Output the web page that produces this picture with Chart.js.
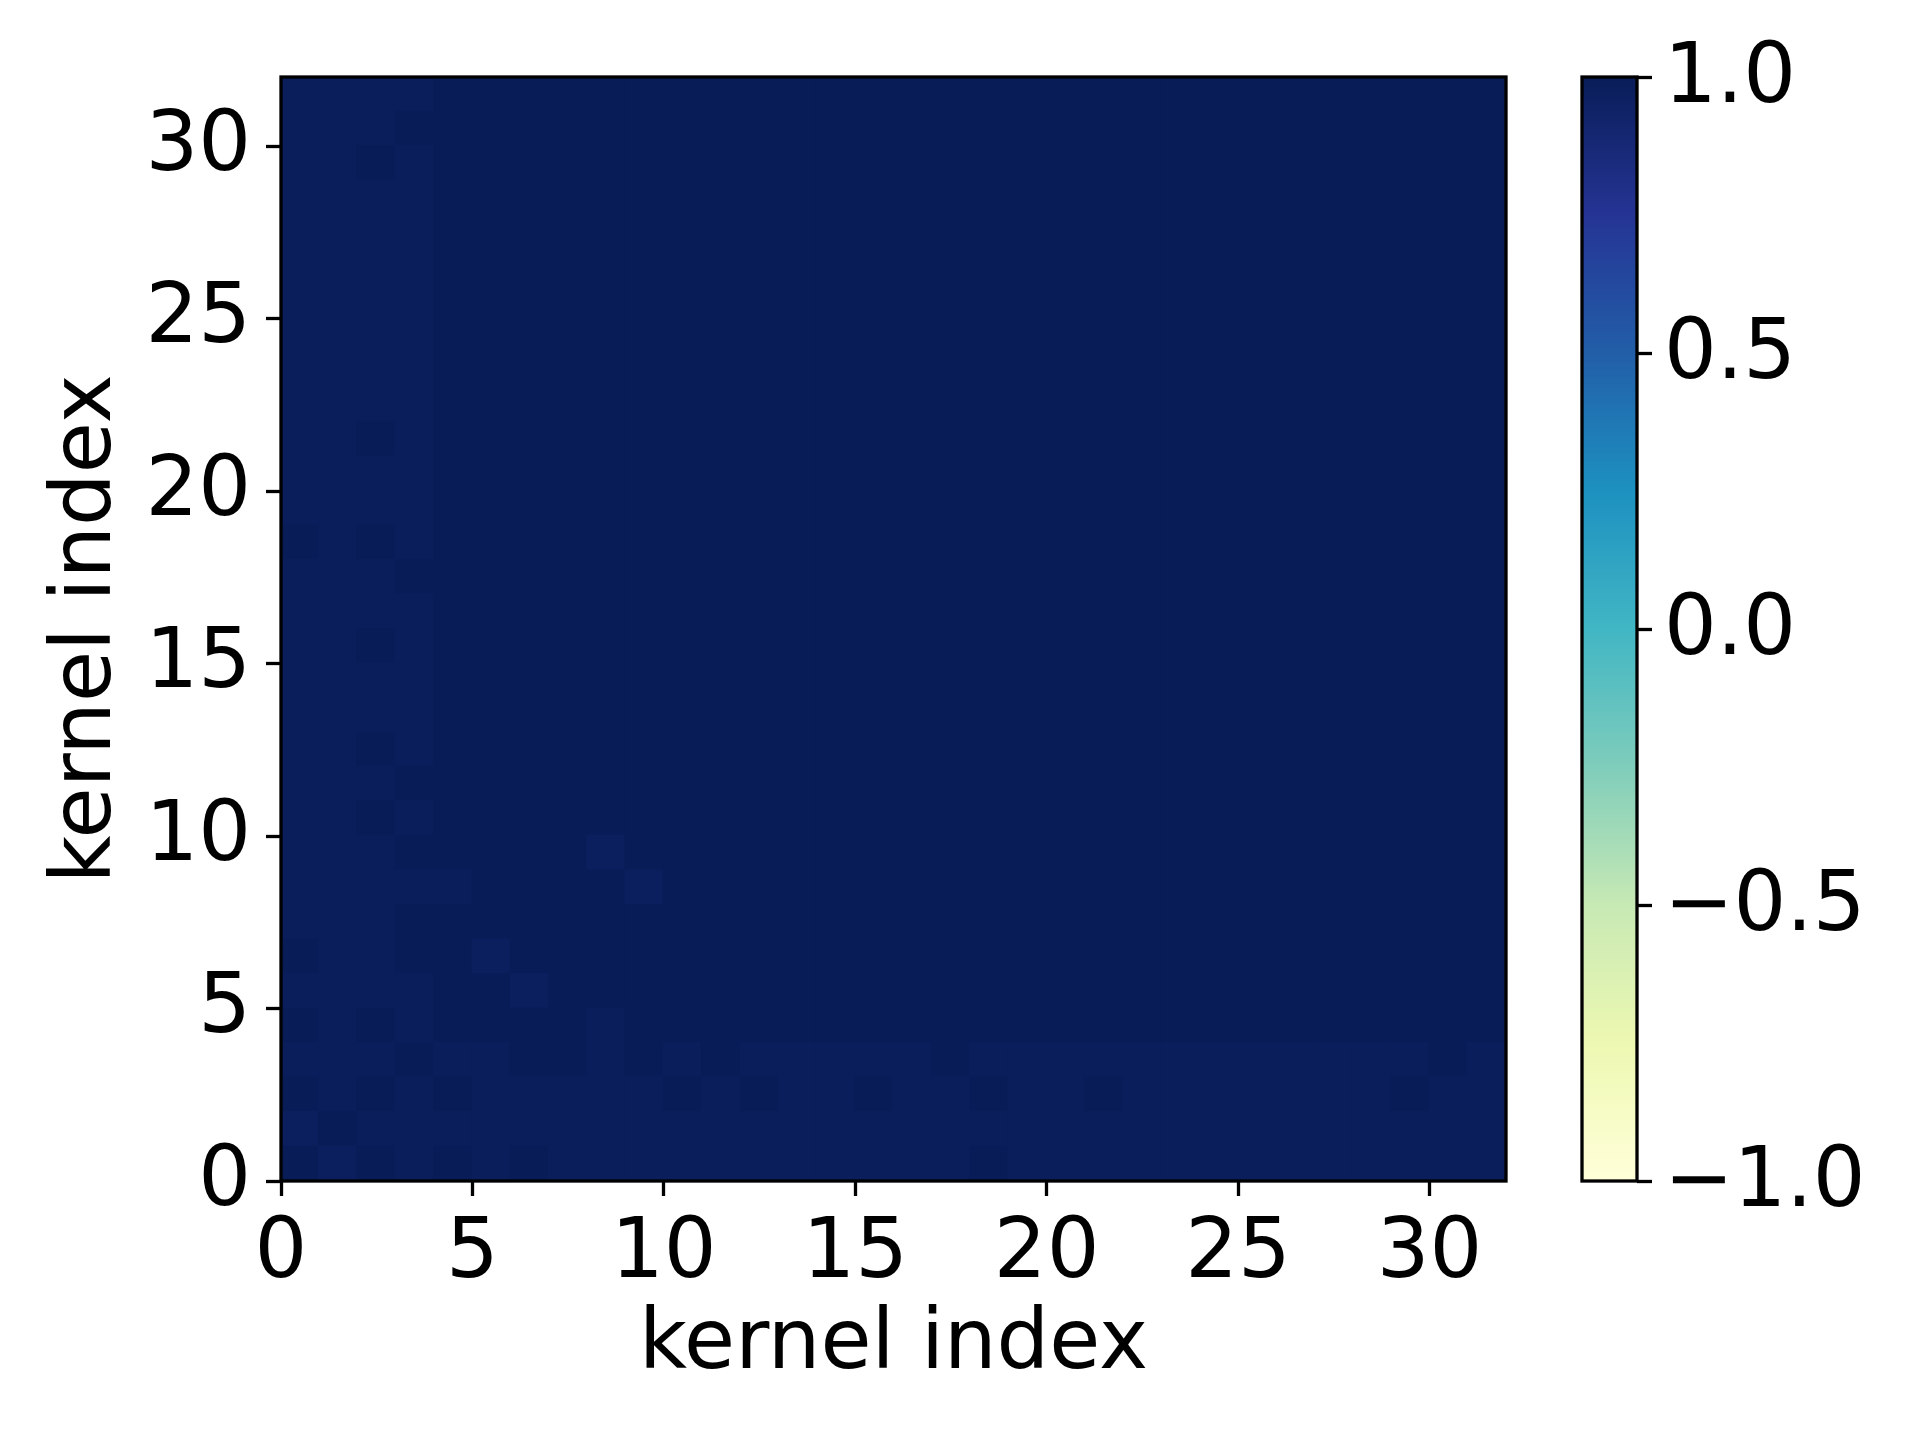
<!DOCTYPE html>
<html>
<head>
<meta charset="utf-8">
<script src="https://cdn.jsdelivr.net/npm/chart.js@4/dist/chart.umd.min.js"></script>
<style>
  html, body { margin: 0; padding: 0; background: #fff; }
  #wrap { position: relative; width: 1920px; height: 1440px; }
  #heat { position: absolute; left: 0; top: 0; }
  #cbar { position: absolute; left: 1540px; top: 0; }
</style>
</head>
<body>
<div id="wrap">
  <canvas id="heat" width="1540" height="1440"></canvas>
  <canvas id="cbar" width="380" height="1440"></canvas>
</div>
<script>
// kernel indices (columns / rows of the matrix)
const kernelIdx = Array.from({ length: 32 }, (_, i) => i);
const axisTicks = [0, 5, 10, 15, 20, 25, 30];
const cbarTicks = [-1, -0.5, 0, 0.5, 1];
const vmin = -1, vmax = 1;

// similarity values, one row per kernel index (row 0 = bottom)
const similarity = [
  /* 0 */ [1, .97, 1, .98, 1, .98, 1, .98, .98, .98, .98, .98, .98, .98, .98, .98, .98, .98, 1, .98, .98, .98, .98, .98, .98, .98, .98, .98, .98, .98, .98, .98],
  /* 1 */ [.97, 1, .985, .98, .98, .98, .98, .98, .98, .98, .98, .98, .98, .98, .98, .98, .98, .98, .98, .98, .98, .98, .98, .98, .98, .98, .98, .98, .98, .98, .98, .98],
  /* 2 */ [1, .98, 1, .98, 1, .98, .98, .98, .98, .98, 1, .98, 1, .98, .98, 1, .98, .98, 1, .98, .98, 1, .98, .98, .98, .98, .98, .98, .98, 1, .98, .98],
  /* 3 */ [.98, .98, .98, 1, .985, .985, 1, 1, .98, 1, .98, 1, .98, .98, .98, .98, .98, 1, .98, .98, .98, .98, .98, .98, .98, .98, .98, .98, .98, .98, 1, .98],
  /* 4 */ [1, .978, 1, .978, 1, 1, 1, 1, .978, 1, 1, 1, 1, 1, 1, 1, 1, 1, 1, 1, 1, 1, 1, 1, 1, 1, 1, 1, 1, 1, 1, 1],
  /* 5 */ [.978, .978, .978, .978, 1, 1, .975, 1, 1, 1, 1, 1, 1, 1, 1, 1, 1, 1, 1, 1, 1, 1, 1, 1, 1, 1, 1, 1, 1, 1, 1, 1],
  /* 6 */ [1, .978, .978, 1, 1, .975, 1, 1, 1, 1, 1, 1, 1, 1, 1, 1, 1, 1, 1, 1, 1, 1, 1, 1, 1, 1, 1, 1, 1, 1, 1, 1],
  /* 7 */ [.978, .978, .978, 1, 1, 1, 1, 1, 1, 1, 1, 1, 1, 1, 1, 1, 1, 1, 1, 1, 1, 1, 1, 1, 1, 1, 1, 1, 1, 1, 1, 1],
  /* 8 */ [.978, .978, .978, .978, .978, 1, 1, 1, 1, .975, 1, 1, 1, 1, 1, 1, 1, 1, 1, 1, 1, 1, 1, 1, 1, 1, 1, 1, 1, 1, 1, 1],
  /* 9 */ [.978, .978, .978, 1, 1, 1, 1, 1, .975, 1, 1, 1, 1, 1, 1, 1, 1, 1, 1, 1, 1, 1, 1, 1, 1, 1, 1, 1, 1, 1, 1, 1],
  /*10 */ [.978, .978, 1, .978, 1, 1, 1, 1, 1, 1, 1, 1, 1, 1, 1, 1, 1, 1, 1, 1, 1, 1, 1, 1, 1, 1, 1, 1, 1, 1, 1, 1],
  /*11 */ [.978, .978, .978, 1, 1, 1, 1, 1, 1, 1, 1, 1, 1, 1, 1, 1, 1, 1, 1, 1, 1, 1, 1, 1, 1, 1, 1, 1, 1, 1, 1, 1],
  /*12 */ [.978, .978, 1, .978, 1, 1, 1, 1, 1, 1, 1, 1, 1, 1, 1, 1, 1, 1, 1, 1, 1, 1, 1, 1, 1, 1, 1, 1, 1, 1, 1, 1],
  /*13 */ [.978, .978, .978, .978, 1, 1, 1, 1, 1, 1, 1, 1, 1, 1, 1, 1, 1, 1, 1, 1, 1, 1, 1, 1, 1, 1, 1, 1, 1, 1, 1, 1],
  /*14 */ [.978, .978, .978, .978, 1, 1, 1, 1, 1, 1, 1, 1, 1, 1, 1, 1, 1, 1, 1, 1, 1, 1, 1, 1, 1, 1, 1, 1, 1, 1, 1, 1],
  /*15 */ [.978, .978, 1, .978, 1, 1, 1, 1, 1, 1, 1, 1, 1, 1, 1, 1, 1, 1, 1, 1, 1, 1, 1, 1, 1, 1, 1, 1, 1, 1, 1, 1],
  /*16 */ [.978, .978, .978, .978, 1, 1, 1, 1, 1, 1, 1, 1, 1, 1, 1, 1, 1, 1, 1, 1, 1, 1, 1, 1, 1, 1, 1, 1, 1, 1, 1, 1],
  /*17 */ [.978, .978, .978, 1, 1, 1, 1, 1, 1, 1, 1, 1, 1, 1, 1, 1, 1, 1, 1, 1, 1, 1, 1, 1, 1, 1, 1, 1, 1, 1, 1, 1],
  /*18 */ [1, .978, 1, .978, 1, 1, 1, 1, 1, 1, 1, 1, 1, 1, 1, 1, 1, 1, 1, 1, 1, 1, 1, 1, 1, 1, 1, 1, 1, 1, 1, 1],
  /*19 */ [.978, .978, .978, .978, 1, 1, 1, 1, 1, 1, 1, 1, 1, 1, 1, 1, 1, 1, 1, 1, 1, 1, 1, 1, 1, 1, 1, 1, 1, 1, 1, 1],
  /*20 */ [.978, .978, .978, .978, 1, 1, 1, 1, 1, 1, 1, 1, 1, 1, 1, 1, 1, 1, 1, 1, 1, 1, 1, 1, 1, 1, 1, 1, 1, 1, 1, 1],
  /*21 */ [.978, .978, 1, .978, 1, 1, 1, 1, 1, 1, 1, 1, 1, 1, 1, 1, 1, 1, 1, 1, 1, 1, 1, 1, 1, 1, 1, 1, 1, 1, 1, 1],
  /*22 */ [.978, .978, .978, .978, 1, 1, 1, 1, 1, 1, 1, 1, 1, 1, 1, 1, 1, 1, 1, 1, 1, 1, 1, 1, 1, 1, 1, 1, 1, 1, 1, 1],
  /*23 */ [.978, .978, .978, .978, 1, 1, 1, 1, 1, 1, 1, 1, 1, 1, 1, 1, 1, 1, 1, 1, 1, 1, 1, 1, 1, 1, 1, 1, 1, 1, 1, 1],
  /*24 */ [.978, .978, .978, .978, 1, 1, 1, 1, 1, 1, 1, 1, 1, 1, 1, 1, 1, 1, 1, 1, 1, 1, 1, 1, 1, 1, 1, 1, 1, 1, 1, 1],
  /*25 */ [.978, .978, .978, .978, 1, 1, 1, 1, 1, 1, 1, 1, 1, 1, 1, 1, 1, 1, 1, 1, 1, 1, 1, 1, 1, 1, 1, 1, 1, 1, 1, 1],
  /*26 */ [.978, .978, .978, .978, 1, 1, 1, 1, 1, 1, 1, 1, 1, 1, 1, 1, 1, 1, 1, 1, 1, 1, 1, 1, 1, 1, 1, 1, 1, 1, 1, 1],
  /*27 */ [.978, .978, .978, .978, 1, 1, 1, 1, 1, 1, 1, 1, 1, 1, 1, 1, 1, 1, 1, 1, 1, 1, 1, 1, 1, 1, 1, 1, 1, 1, 1, 1],
  /*28 */ [.978, .978, .978, .978, 1, 1, 1, 1, 1, 1, 1, 1, 1, 1, 1, 1, 1, 1, 1, 1, 1, 1, 1, 1, 1, 1, 1, 1, 1, 1, 1, 1],
  /*29 */ [.978, .978, 1, .978, 1, 1, 1, 1, 1, 1, 1, 1, 1, 1, 1, 1, 1, 1, 1, 1, 1, 1, 1, 1, 1, 1, 1, 1, 1, 1, 1, 1],
  /*30 */ [.978, .978, .978, 1, 1, 1, 1, 1, 1, 1, 1, 1, 1, 1, 1, 1, 1, 1, 1, 1, 1, 1, 1, 1, 1, 1, 1, 1, 1, 1, 1, 1],
  /*31 */ [.978, .978, .978, .978, 1, 1, 1, 1, 1, 1, 1, 1, 1, 1, 1, 1, 1, 1, 1, 1, 1, 1, 1, 1, 1, 1, 1, 1, 1, 1, 1, 1]
];

// YlGnBu anchor colours (matplotlib)
const ylgnbu = ['#ffffd9', '#edf8b1', '#c7e9b4', '#7fcdbb', '#41b6c4', '#1d91c0', '#225ea8', '#253494', '#081d58'];

function hexRgb(h) {
  return [parseInt(h.slice(1, 3), 16), parseInt(h.slice(3, 5), 16), parseInt(h.slice(5, 7), 16)];
}
const anchors = ylgnbu.map(hexRgb);

// same 256-step lookup matplotlib uses
function cmap(v) {
  let t = (v - vmin) / (vmax - vmin);
  t = Math.min(1, Math.max(0, t));
  const idx = Math.min(255, Math.floor(t * 256));
  const tt = idx / 255 * (anchors.length - 1);
  const i = Math.min(anchors.length - 2, Math.floor(tt));
  const f = tt - i;
  const a = anchors[i], b = anchors[i + 1];
  const c = a.map((x, k) => Math.round(x + (b[k] - x) * f));
  return `rgb(${c[0]}, ${c[1]}, ${c[2]})`;
}

const FONT = { family: 'DejaVu Sans', size: 83 };
Chart.defaults.color = '#000';
Chart.defaults.font.family = FONT.family;

// frame round the plot area (matplotlib spines)
const frame = {
  id: 'frame',
  afterDraw(chart) {
    const { ctx, chartArea: a } = chart;
    ctx.save();
    ctx.strokeStyle = '#000';
    ctx.lineWidth = 3.3;
    ctx.strokeRect(a.left, a.top, a.right - a.left, a.bottom - a.top);
    ctx.restore();
  }
};

const tickGrid = {
  display: true,
  drawOnChartArea: false,
  drawTicks: true,
  tickLength: 15,
  tickWidth: 3.3,
  tickColor: '#000'
};

const datasets = similarity.map((row, r) => ({
  label: 'row ' + r,
  data: row.map((v, c) => ({ x: kernelIdx[c] + 0.5, y: [kernelIdx[r], kernelIdx[r] + 1] })),
  backgroundColor: row.map(cmap),
  borderWidth: 0,
  inflateAmount: 1,
  barPercentage: 1,
  categoryPercentage: 1,
  grouped: false
}));

new Chart(document.getElementById('heat'), {
  type: 'bar',
  data: { datasets },
  options: {
    responsive: false,
    animation: false,
    devicePixelRatio: 1,
    layout: { padding: { top: 77, right: 34, left: 0, bottom: 0 } },
    plugins: { legend: { display: false }, tooltip: { enabled: false } },
    scales: {
      x: {
        type: 'linear',
        min: 0, max: 32,
        offset: false,
        grid: { ...tickGrid, offset: false },
        border: { display: false },
        afterBuildTicks: (s) => { s.ticks = axisTicks.map(v => ({ value: v })); },
        afterFit: (s) => { s.height = 259; },
        ticks: { font: FONT, padding: 10, maxRotation: 0 },
        title: { display: true, text: 'kernel index', font: FONT, padding: { top: 0, bottom: 44 } }
      },
      y: {
        type: 'linear',
        min: 0, max: 32,
        grid: tickGrid,
        border: { display: false },
        afterBuildTicks: (s) => { s.ticks = axisTicks.map(v => ({ value: v })); },
        afterFit: (s) => { s.width = 281; },
        ticks: { font: FONT, padding: 15, labelOffset: 2 },
        title: { display: true, text: 'kernel index', font: FONT, padding: { top: 39, bottom: 0 } }
      }
    }
  },
  plugins: [frame]
});

// colorbar
new Chart(document.getElementById('cbar'), {
  type: 'bar',
  data: {
    labels: ['cb'],
    datasets: [{
      data: [[vmin, vmax]],
      backgroundColor: (ctx) => {
        const a = ctx.chart.chartArea;
        if (!a) return ylgnbu[8];
        const g = ctx.chart.ctx.createLinearGradient(0, a.bottom, 0, a.top);
        ylgnbu.forEach((c, i) => g.addColorStop(i / (ylgnbu.length - 1), c));
        return g;
      },
      borderWidth: 0,
      barPercentage: 1,
      categoryPercentage: 1
    }]
  },
  options: {
    responsive: false,
    animation: false,
    devicePixelRatio: 1,
    layout: { padding: { top: 77, right: 0, left: 42, bottom: 259 } },
    plugins: { legend: { display: false }, tooltip: { enabled: false } },
    scales: {
      x: { display: false },
      y: {
        position: 'right',
        min: vmin, max: vmax,
        grid: tickGrid,
        border: { display: false },
        afterBuildTicks: (s) => { s.ticks = cbarTicks.map(v => ({ value: v })); },
        afterFit: (s) => { s.width = 283; },
        ticks: {
          font: FONT,
          padding: 12,
          labelOffset: 3,
          callback: (v) => Number(v).toFixed(1).replace('-', '\u2212')
        }
      }
    }
  },
  plugins: [frame]
});
</script>
</body>
</html>
